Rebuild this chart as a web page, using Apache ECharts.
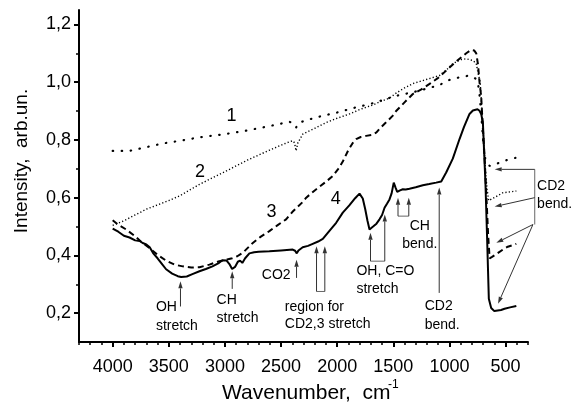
<!DOCTYPE html>
<html>
<head>
<meta charset="utf-8">
<script src="https://cdn.jsdelivr.net/npm/echarts@6/dist/echarts.min.js"></script>
<style>
  html, body { margin: 0; padding: 0; background: #fff; }
  #chart { width: 584px; height: 405px; }
</style>
</head>
<body>
<div id="chart"></div>
<script>
// spectra (wavenumber in cm-1, intensity in arb. units)
const wn1 = [4000, 3850, 3700, 3550, 3400, 3227, 3000, 2812, 2600, 2425, 2380, 2366, 2340, 2188, 2000, 1831, 1700, 1564, 1450, 1326, 1200, 1088, 1015, 910, 821, 761, 747, 730, 715, 700, 685, 660, 642, 600, 520, 460, 389];
const int1 = [0.762, 0.762, 0.775, 0.788, 0.797, 0.809, 0.82, 0.832, 0.848, 0.863, 0.855, 0.843, 0.86, 0.878, 0.895, 0.913, 0.925, 0.942, 0.955, 0.965, 0.978, 0.99, 1.006, 1.017, 1.023, 1.011, 1.0, 0.95, 0.88, 0.8, 0.74, 0.72, 0.71, 0.715, 0.725, 0.735, 0.739];

const wn2 = [4000, 3900, 3800, 3700, 3600, 3500, 3404, 3227, 3000, 2800, 2600, 2450, 2396, 2380, 2366, 2350, 2307, 2200, 2100, 2000, 1889, 1800, 1683, 1600, 1534, 1475, 1400, 1326, 1200, 1088, 1020, 970, 900, 851, 791, 761, 747, 726, 710, 695, 680, 665, 650, 642, 600, 524, 460, 404];
const int2 = [0.504, 0.52, 0.54, 0.56, 0.575, 0.59, 0.606, 0.646, 0.69, 0.73, 0.765, 0.79, 0.797, 0.79, 0.762, 0.79, 0.82, 0.84, 0.86, 0.875, 0.89, 0.905, 0.921, 0.935, 0.945, 0.962, 0.98, 0.995, 1.01, 1.023, 1.045, 1.064, 1.078, 1.081, 1.075, 1.065, 1.035, 1.0, 0.9, 0.8, 0.7, 0.63, 0.59, 0.588, 0.6, 0.617, 0.62, 0.623];

const wn3 = [4000, 3950, 3881, 3800, 3740, 3673, 3600, 3524, 3450, 3376, 3300, 3227, 3138, 3050, 2980, 2936, 2890, 2841, 2752, 2680, 2604, 2530, 2455, 2400, 2360, 2307, 2276, 2200, 2100, 2039, 1990, 1950, 1900, 1860, 1831, 1790, 1742, 1683, 1650, 1620, 1564, 1504, 1475, 1400, 1326, 1250, 1177, 1100, 1029, 960, 910, 850, 806, 780, 761, 745, 732, 717, 702, 687, 670, 655, 642, 620, 580, 524, 480, 440, 404];
const int3 = [0.522, 0.506, 0.49, 0.466, 0.445, 0.426, 0.402, 0.382, 0.368, 0.362, 0.358, 0.359, 0.368, 0.38, 0.386, 0.39, 0.397, 0.409, 0.443, 0.465, 0.484, 0.505, 0.525, 0.55, 0.565, 0.585, 0.6, 0.625, 0.655, 0.675, 0.7, 0.725, 0.765, 0.79, 0.803, 0.81, 0.814, 0.818, 0.826, 0.84, 0.861, 0.884, 0.9, 0.93, 0.959, 0.975, 0.994, 1.015, 1.04, 1.065, 1.081, 1.1, 1.112, 1.11, 1.1, 1.06, 1.0, 0.95, 0.84, 0.74, 0.6, 0.47, 0.39, 0.395, 0.405, 0.42, 0.43, 0.435, 0.44];

const wn4 = [4000, 3950, 3900, 3850, 3800, 3760, 3733, 3700, 3670, 3640, 3600, 3560, 3524, 3470, 3420, 3390, 3340, 3290, 3227, 3170, 3111, 3060, 3022, 2985, 2960, 2936, 2910, 2885, 2865, 2845, 2820, 2782, 2740, 2700, 2604, 2500, 2396, 2375, 2360, 2345, 2307, 2260, 2218, 2170, 2128, 2069, 2009, 1950, 1892, 1840, 1801, 1785, 1772, 1750, 1730, 1712, 1695, 1680, 1650, 1623, 1600, 1578, 1555, 1534, 1515, 1496, 1480, 1465, 1440, 1415, 1390, 1356, 1300, 1237, 1180, 1118, 1073, 1029, 970, 910, 870, 821, 791, 776, 750, 732, 717, 702, 692, 679, 665, 649, 628, 600, 583, 540, 509, 460, 404];
const int4 = [0.493, 0.482, 0.468, 0.462, 0.452, 0.45, 0.443, 0.438, 0.428, 0.408, 0.39, 0.37, 0.352, 0.337, 0.328, 0.325, 0.327, 0.335, 0.345, 0.353, 0.362, 0.372, 0.383, 0.382, 0.37, 0.353, 0.36, 0.378, 0.382, 0.374, 0.39, 0.407, 0.411, 0.413, 0.414, 0.417, 0.42, 0.416, 0.407, 0.417, 0.428, 0.433, 0.44, 0.448, 0.457, 0.485, 0.513, 0.548, 0.573, 0.598, 0.614, 0.61, 0.597, 0.56, 0.52, 0.49, 0.495, 0.5, 0.51, 0.525, 0.54, 0.565, 0.58, 0.594, 0.615, 0.652, 0.635, 0.62, 0.625, 0.629, 0.628, 0.631, 0.636, 0.643, 0.647, 0.652, 0.656, 0.687, 0.735, 0.803, 0.845, 0.89, 0.902, 0.907, 0.906, 0.901, 0.89, 0.86, 0.77, 0.65, 0.47, 0.25, 0.218, 0.207, 0.206, 0.211, 0.215, 0.22, 0.225];

const xMajor = [4000, 3500, 3000, 2500, 2000, 1500, 1000, 500];
const xMinor = [4300, 4200, 4100, 3900, 3800, 3700, 3600, 3400, 3300, 3200, 3100, 2900, 2800, 2700, 2600, 2400, 2300, 2200, 2100, 1900, 1800, 1700, 1600, 1400, 1300, 1200, 1100, 900, 800, 700, 600, 400, 300];
const yMajor = [0.2, 0.4, 0.6, 0.8, 1.0, 1.2];
const yMinor = [0.3, 0.5, 0.7, 0.9, 1.1];

// curve numbers: [wavenumber, intensity, text]
const curveLabels = [[2941, 0.884, '1'], [3223, 0.688, '2'], [2585, 0.549, '3'], [2012, 0.594, '4']];

// annotation arrows: [from wn, from int, tip wn, tip int]
const arrows = [
  [3396, 0.223, 3396, 0.31],
  [2935, 0.284, 2935, 0.345],
  [2362, 0.322, 2362, 0.385],
  [2184, 0.275, 2184, 0.432],
  [2110, 0.275, 2110, 0.432],
  [1703, 0.38, 1703, 0.478],
  [1576, 0.38, 1576, 0.542],
  [1458, 0.536, 1458, 0.6],
  [1362, 0.536, 1362, 0.6],
  [1091, 0.27, 1091, 0.635],
  [240, 0.698, 597, 0.698],
  [240, 0.6, 597, 0.569],
  [256, 0.507, 582, 0.4435],
  [256, 0.507, 567, 0.2325]
];
// bracket segments: [wn1, int1, wn2, int2]
const brackets = [
  [2184, 0.275, 2110, 0.275],
  [1703, 0.38, 1576, 0.38],
  [1458, 0.536, 1362, 0.536],
  [240, 0.698, 240, 0.507]
];
// annotation texts: [wn, int, text, align]
const notes = [
  [3615, 0.222, 'OH', 'left'], [3615, 0.156, 'stretch', 'left'],
  [3074, 0.246, 'CH', 'left'], [3074, 0.183, 'stretch', 'left'],
  [2415, 0.333, 'CO2', 'right'],
  [2466, 0.221, 'region for', 'left'], [2466, 0.163, 'CD2,3 stretch', 'left'],
  [1828, 0.345, 'OH, C=O', 'left'], [1828, 0.283, 'stretch', 'left'],
  [1264, 0.501, 'CH', 'center'], [1264, 0.438, 'bend.', 'center'],
  [1220, 0.223, 'CD2', 'left'], [1220, 0.159, 'bend.', 'left'],
  [219, 0.64, 'CD2', 'left'], [219, 0.577, 'bend.', 'left']
];

const zip = (xs, ys) => xs.map((x, i) => [x, ys[i]]);
const font = "'Liberation Sans', Arial, sans-serif";

const chart = echarts.init(document.getElementById('chart'));

const option = {
  animation: false,
  backgroundColor: '#fff',
  grid: { left: 79, right: 56, top: 10, bottom: 63, containLabel: false, outerBoundsMode: 'none' },
  xAxis: [
    {
      type: 'value', inverse: true, min: 300, max: 4300, position: 'bottom',
      axisLine: { show: true, lineStyle: { color: '#000', width: 2 } },
      axisTick: { show: true, customValues: xMajor, length: 5, lineStyle: { color: '#000', width: 2 } },
      axisLabel: {
        customValues: xMajor, margin: 16, fontSize: 18, color: '#000', fontFamily: font,
        formatter: v => String(v)
      },
      splitLine: { show: false }
    },
    {
      type: 'value', inverse: true, min: 300, max: 4300, position: 'bottom',
      axisLine: { show: false },
      axisTick: { show: true, customValues: xMinor, length: 3, lineStyle: { color: '#000', width: 1.5 } },
      axisLabel: { show: false },
      splitLine: { show: false }
    }
  ],
  yAxis: [
    {
      type: 'value', min: 0.1, max: 1.25, position: 'left',
      axisLine: { show: true, lineStyle: { color: '#000', width: 2 } },
      axisTick: { show: true, customValues: yMajor, length: 5, lineStyle: { color: '#000', width: 2 } },
      axisLabel: {
        customValues: yMajor, margin: 8, fontSize: 18, color: '#000', fontFamily: font,
        formatter: v => v.toFixed(1).replace('.', ',')
      },
      splitLine: { show: false }
    },
    {
      type: 'value', min: 0.1, max: 1.25, position: 'left',
      axisLine: { show: false },
      axisTick: { show: true, customValues: yMinor, length: 3, lineStyle: { color: '#000', width: 1.5 } },
      axisLabel: { show: false },
      splitLine: { show: false }
    }
  ],
  series: [
    {
      name: '1', type: 'line', data: zip(wn1, int1), showSymbol: false,
      lineStyle: { color: '#000', width: 2.2, type: [0.5, 8.5], cap: 'round' }
    },
    {
      name: '2', type: 'line', data: zip(wn2, int2), showSymbol: false,
      lineStyle: { color: '#000', width: 1.4, type: [1.2, 2.2] }
    },
    {
      name: '3', type: 'line', data: zip(wn3, int3), showSymbol: false,
      lineStyle: { color: '#000', width: 2, type: [6, 4] }
    },
    {
      name: '4', type: 'line', data: zip(wn4, int4), showSymbol: false,
      lineStyle: { color: '#000', width: 2 }
    }
  ]
};

chart.setOption(option);

// annotations placed through the chart's own coordinate system
const toPx = (v, i) => chart.convertToPixel({ gridIndex: 0 }, [v, i]);
const g = [];
const lineCol = '#333';

brackets.forEach(b => {
  const p = toPx(b[0], b[1]), q = toPx(b[2], b[3]);
  g.push({ type: 'line', shape: { x1: p[0], y1: p[1], x2: q[0], y2: q[1] }, style: { stroke: '#666', lineWidth: 1 } });
});

arrows.forEach(a => {
  const p = toPx(a[0], a[1]), q = toPx(a[2], a[3]);
  const dx = q[0] - p[0], dy = q[1] - p[1];
  const len = Math.sqrt(dx * dx + dy * dy);
  const ux = dx / len, uy = dy / len;
  const hl = 7, hw = 2.2;
  const bx = q[0] - ux * hl, by = q[1] - uy * hl;
  g.push({ type: 'line', shape: { x1: p[0], y1: p[1], x2: bx, y2: by }, style: { stroke: lineCol, lineWidth: 1 } });
  g.push({
    type: 'polygon',
    shape: { points: [[q[0], q[1]], [bx - uy * hw, by + ux * hw], [bx + uy * hw, by - ux * hw]] },
    style: { fill: lineCol }
  });
});

notes.forEach(n => {
  const p = toPx(n[0], n[1]);
  g.push({
    type: 'text', x: p[0], y: p[1],
    style: { text: n[2], font: '14px ' + font, fill: '#000', align: n[3], verticalAlign: 'middle' }
  });
});

curveLabels.forEach(n => {
  const p = toPx(n[0], n[1]);
  g.push({
    type: 'text', x: p[0], y: p[1],
    style: { text: n[2], font: '18px ' + font, fill: '#000', align: 'center', verticalAlign: 'middle' }
  });
});

// axis titles
g.push({
  type: 'text', x: 22, y: 161, rotation: Math.PI / 2,
  style: { text: 'Intensity,  arb.un.', font: '19px ' + font, fill: '#000', align: 'center', verticalAlign: 'middle' }
});
g.push({
  type: 'text', x: 222, y: 393,
  style: { text: 'Wavenumber,  cm', font: '21px ' + font, fill: '#000', align: 'left', verticalAlign: 'middle' }
});
g.push({
  type: 'text', x: 388, y: 385,
  style: { text: '-1', font: '12px ' + font, fill: '#000', align: 'left', verticalAlign: 'middle' }
});

chart.setOption({ graphic: g });
</script>
</body>
</html>
